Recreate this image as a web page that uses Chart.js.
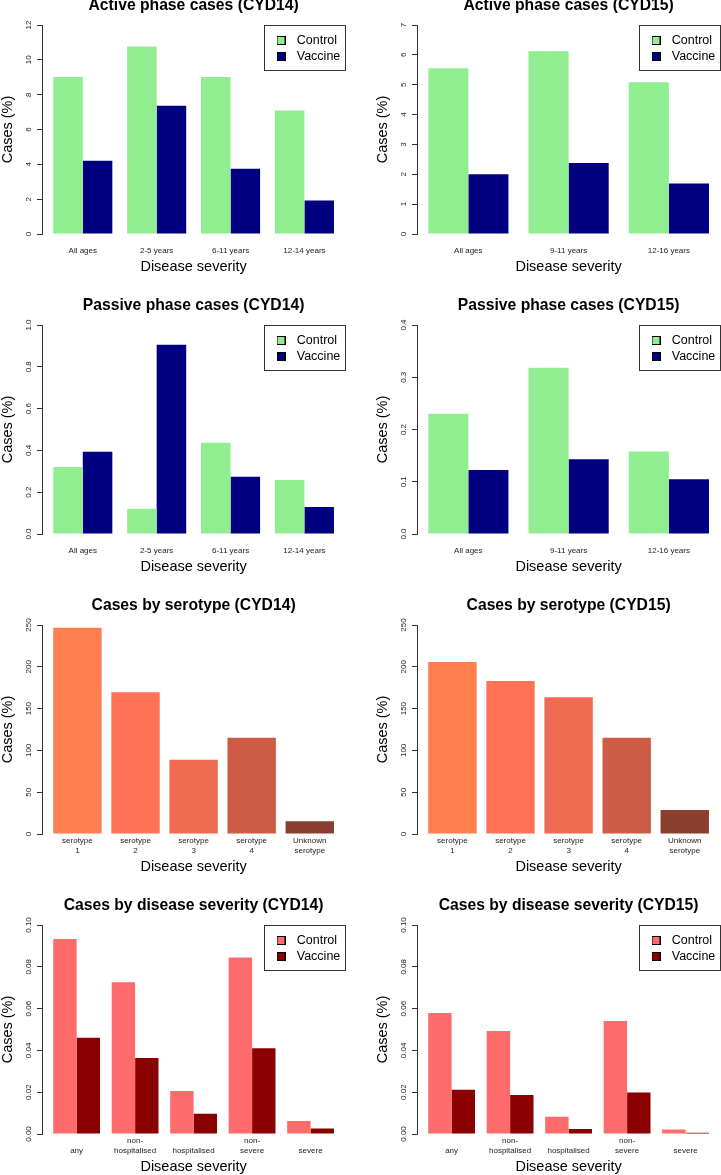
<!DOCTYPE html>
<html><head><meta charset="utf-8">
<script src="https://cdn.jsdelivr.net/npm/chart.js@4"></script>
<style>
html,body{margin:0;padding:0;background:#fff;overflow:hidden;width:721px;height:1175px;position:relative;}
canvas{position:absolute;}
</style></head><body>
<canvas id="c1" width="346" height="275" style="left:0;top:0"></canvas>
<canvas id="c2" width="346" height="275" style="left:375px;top:0"></canvas>
<canvas id="c3" width="346" height="285" style="left:0;top:290px"></canvas>
<canvas id="c4" width="346" height="285" style="left:375px;top:290px"></canvas>
<canvas id="c5" width="346" height="285" style="left:0;top:590px"></canvas>
<canvas id="c6" width="346" height="285" style="left:375px;top:590px"></canvas>
<canvas id="c7" width="346" height="285" style="left:0;top:890px"></canvas>
<canvas id="c8" width="346" height="285" style="left:375px;top:890px"></canvas>
<script>
const FONT = "'Liberation Sans', Arial, sans-serif";

// ---- data ----
const cyd14AgeGroups = ["All ages", "2-5 years", "6-11 years", "12-14 years"];
const cyd15AgeGroups = ["All ages", "9-11 years", "12-16 years"];

const activeCyd14Control = [9.01, 10.76, 9.02, 7.09];
const activeCyd14Vaccine = [4.21, 7.37, 3.75, 1.93];
const activeCyd14Ticks = ["0", "2", "4", "6", "8", "10", "12"];

const activeCyd15Control = [5.55, 6.12, 5.08];
const activeCyd15Vaccine = [2.00, 2.38, 1.69];
const activeCyd15Ticks = ["0", "1", "2", "3", "4", "5", "6", "7"];

const passiveCyd14Control = [0.320, 0.121, 0.437, 0.258];
const passiveCyd14Vaccine = [0.394, 0.906, 0.274, 0.129];
const passiveCyd14Ticks = ["0.0", "0.2", "0.4", "0.6", "0.8", "1.0"];

const passiveCyd15Control = [0.230, 0.318, 0.158];
const passiveCyd15Vaccine = [0.1225, 0.143, 0.105];
const passiveCyd15Ticks = ["0.0", "0.1", "0.2", "0.3", "0.4"];

const serotypeLabels = [["serotype", "1"], ["serotype", "2"], ["serotype", "3"], ["serotype", "4"], ["Unknown", "serotype"]];
const serotypeCyd14 = [246.8, 169.7, 88.7, 115, 15.2];
const serotypeCyd15 = [205.7, 182.9, 163.7, 115, 28.8];
const serotypeTicks = ["0", "50", "100", "150", "200", "250"];
const serotypeColors = ["#FF7F50", "#FF7256", "#EE6A50", "#CD5B45", "#8B3E2F"];

const severityLabels = [["", "any"], ["non-", "hospitalised"], ["", "hospitalised"], ["non-", "severe"], ["", "severe"]];
const severityCyd14Control = [0.0933, 0.0726, 0.0206, 0.0844, 0.0062];
const severityCyd14Vaccine = [0.0461, 0.0364, 0.0097, 0.0410, 0.0026];
const severityCyd15Control = [0.0579, 0.0493, 0.0083, 0.0541, 0.0022];
const severityCyd15Vaccine = [0.0212, 0.0187, 0.0024, 0.0199, 0.0006];
const severityTicks = ["0.00", "0.02", "0.04", "0.06", "0.08", "0.10"];

const seriesNames = ["Control", "Vaccine"];
const ageColors = ["#90EE90", "#000080"];
const severityColors = ["#FF6A6A", "#8B0000"];

// ---- helpers ----
const mctx = document.createElement('canvas').getContext('2d');

function boxImg(color) {
  const c = document.createElement('canvas');
  c.width = 9; c.height = 9;
  const x = c.getContext('2d');
  x.fillStyle = color; x.fillRect(0, 0, 9, 9);
  x.strokeStyle = '#000'; x.lineWidth = 1; x.strokeRect(0.5, 0.5, 8, 8);
  return c;
}

const rLayout = {
  id: 'rLayout',
  afterLayout(chart, args, o) {
    const xs = chart.scales.x;
    xs._startValue = o.start;
    xs._valueRange = o.range;
    if (o.legend && chart.legend) {
      const lg = chart.legend;
      const top = chart.chartArea.top;
      lg.left = 268; lg.right = 268 + 90;
      lg.top = top + 5.75; lg.bottom = lg.top + 60;
    }
  },
  afterDraw(chart, args, o) {
    if (!o.legend) return;
    const ctx = chart.ctx;
    const top = Math.round(chart.chartArea.top);
    ctx.save();
    ctx.strokeStyle = '#333'; ctx.lineWidth = 1;
    ctx.strokeRect(264.5, top + 0.5, 81, 45);
    ctx.restore();
  }
};

function makeChart(id, padTop, p) {
  const grouped = p.datasets.length > 1;
  const n = p.labels.length;
  let start, range;
  if (grouped) { const r = 2.5 * n - 0.5; start = (-1 - 0.04 * r) / 2.5; range = 1.08 * r / 2.5; }
  else { const r = 1.2 * n - 0.2; start = (0.2 - 0.04 * r - 0.7) / 1.2; range = 1.08 * r / 1.2; }
  const ymax = parseFloat(p.yTicks[p.yTicks.length - 1]);
  const step = parseFloat(p.yTicks[1]) - parseFloat(p.yTicks[0]);
  mctx.font = '8px ' + FONT;
  const widest = Math.max(...p.yTicks.map(t => mctx.measureText(t).width));
  const multi = p.labels.some(l => Array.isArray(l));
  const tickFont = {family: FONT, size: 8, lineHeight: 1.25};

  new Chart(document.getElementById(id), {
    type: 'bar',
    data: {
      labels: p.labels,
      datasets: p.datasets.map(d => ({
        label: d.label, data: d.data, backgroundColor: d.color, borderWidth: 0,
        categoryPercentage: grouped ? 0.8 : 1 / 1.2, barPercentage: 1
      }))
    },
    options: {
      responsive: false, animation: false, devicePixelRatio: 1,
      events: [],
      layout: {padding: {left: 0, top: padTop, right: 0.8, bottom: 0}},
      scales: {
        x: {
          grid: {display: false, drawTicks: false},
          border: {display: false},
          ticks: {autoSkip: false, maxRotation: 0, minRotation: 0, padding: multi ? 1.3 : 11.6, color: '#222', font: tickFont},
          title: {display: true, text: 'Disease severity', color: '#000', font: {family: FONT, size: 14.5, lineHeight: 1}, padding: {top: 0, bottom: 0.8}},
          afterFit(s) { s.height = 41; }
        },
        y: {
          min: 0, max: ymax,
          ticks: {
            stepSize: step, autoSkip: false, minRotation: 90, maxRotation: 90, crossAlign: 'center',
            padding: 8 - widest / 2, color: '#222', font: tickFont,
            callback: (v) => { const t = p.yTicks.find(s => Math.abs(parseFloat(s) - v) < step / 100); return t === undefined ? '' : t; }
          },
          grid: {display: true, drawOnChartArea: false, drawTicks: true, tickLength: 5, color: '#333'},
          border: {display: true, color: '#333', width: 1},
          title: {display: true, text: 'Cases (%)', color: '#000', font: {family: FONT, size: 14.5, lineHeight: 1}, padding: {top: 0.25, bottom: 0}},
          afterFit(s) { s.width = 42; }
        }
      },
      plugins: {
        title: {display: true, text: p.title, fullSize: false, color: '#000',
          font: {family: FONT, size: 15.7, weight: 'bold', lineHeight: 1}, padding: {top: -1.75, bottom: 11.05}},
        legend: grouped ? {
          display: true, position: 'chartArea', align: 'start',
          labels: {
            usePointStyle: true, pointStyleWidth: 19, padding: 3.5, color: '#000',
            font: {family: FONT, size: 12.5},
            generateLabels: (chart) => chart.data.datasets.map((ds, i) => ({
              text: ds.label, fillStyle: ds.backgroundColor, strokeStyle: '#000', lineWidth: 1,
              fontColor: '#000', hidden: false, datasetIndex: i, pointStyle: boxImg(ds.backgroundColor)
            }))
          }
        } : {display: false},
        tooltip: {enabled: false},
        rLayout: {start: start, range: range, legend: grouped}
      }
    },
    plugins: [rLayout]
  });
}

makeChart('c1', 0, {title: 'Active phase cases (CYD14)', labels: cyd14AgeGroups, yTicks: activeCyd14Ticks,
  datasets: [{label: seriesNames[0], data: activeCyd14Control, color: ageColors[0]}, {label: seriesNames[1], data: activeCyd14Vaccine, color: ageColors[1]}]});
makeChart('c2', 0, {title: 'Active phase cases (CYD15)', labels: cyd15AgeGroups, yTicks: activeCyd15Ticks,
  datasets: [{label: seriesNames[0], data: activeCyd15Control, color: ageColors[0]}, {label: seriesNames[1], data: activeCyd15Vaccine, color: ageColors[1]}]});
makeChart('c3', 10, {title: 'Passive phase cases (CYD14)', labels: cyd14AgeGroups, yTicks: passiveCyd14Ticks,
  datasets: [{label: seriesNames[0], data: passiveCyd14Control, color: ageColors[0]}, {label: seriesNames[1], data: passiveCyd14Vaccine, color: ageColors[1]}]});
makeChart('c4', 10, {title: 'Passive phase cases (CYD15)', labels: cyd15AgeGroups, yTicks: passiveCyd15Ticks,
  datasets: [{label: seriesNames[0], data: passiveCyd15Control, color: ageColors[0]}, {label: seriesNames[1], data: passiveCyd15Vaccine, color: ageColors[1]}]});
makeChart('c5', 10, {title: 'Cases by serotype (CYD14)', labels: serotypeLabels, yTicks: serotypeTicks,
  datasets: [{label: 'Cases', data: serotypeCyd14, color: serotypeColors}]});
makeChart('c6', 10, {title: 'Cases by serotype (CYD15)', labels: serotypeLabels, yTicks: serotypeTicks,
  datasets: [{label: 'Cases', data: serotypeCyd15, color: serotypeColors}]});
makeChart('c7', 10, {title: 'Cases by disease severity (CYD14)', labels: severityLabels, yTicks: severityTicks,
  datasets: [{label: seriesNames[0], data: severityCyd14Control, color: severityColors[0]}, {label: seriesNames[1], data: severityCyd14Vaccine, color: severityColors[1]}]});
makeChart('c8', 10, {title: 'Cases by disease severity (CYD15)', labels: severityLabels, yTicks: severityTicks,
  datasets: [{label: seriesNames[0], data: severityCyd15Control, color: severityColors[0]}, {label: seriesNames[1], data: severityCyd15Vaccine, color: severityColors[1]}]});
</script>
</body></html>
